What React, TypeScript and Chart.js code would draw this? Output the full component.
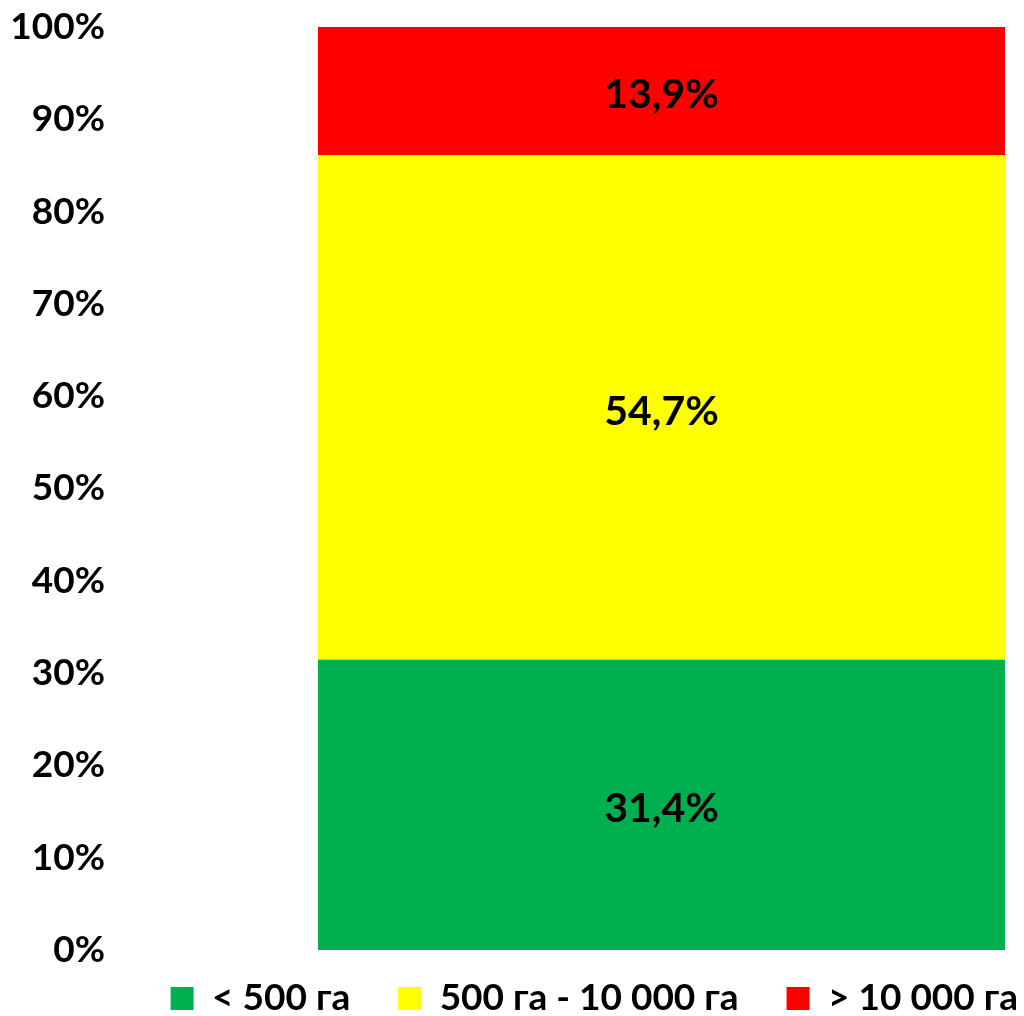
import React, { useEffect, useRef } from "react";
import { Chart, registerables } from "chart.js";

Chart.register(...registerables);

const categories = [""];
const seriesNames = ["< 500 га", "500 га - 10 000 га", "> 10 000 га"];
const seriesValues = [[31.4], [54.7], [13.9]];
const seriesColors = ["#00B050", "#FFFF00", "#FF0000"];
const yTicks = [0, 10, 20, 30, 40, 50, 60, 70, 80, 90, 100];

const FONT = "Lato, 'Open Sans', sans-serif";

const labelPlugin = {
  id: "segLabels",
  afterDatasetsDraw(chart: any) {
    const ctx = chart.ctx;
    ctx.save();
    ctx.font = `bold 41px ${FONT}`;
    ctx.fillStyle = "#000";
    ctx.textAlign = "center";
    ctx.textBaseline = "middle";
    chart.data.datasets.forEach((ds: any, i: number) => {
      const meta = chart.getDatasetMeta(i);
      meta.data.forEach((el: any, j: number) => {
        const v = ds.data[j];
        const y = (el.y + el.base) / 2 + 4;
        ctx.fillText(v.toFixed(1).replace(".", ",") + "%", el.x, y);
      });
    });
    ctx.restore();
  },
};

const legendShift = {
  id: "legendShift",
  afterLayout(chart: any) {
    const l = chart.legend;
    if (l) {
      l.top -= 18;
      l.bottom -= 18;
    }
  },
};

export default function App() {
  const ref = useRef<HTMLCanvasElement | null>(null);
  useEffect(() => {
    if (!ref.current) return;
    const chart = new Chart(ref.current, {
      type: "bar",
      data: {
        labels: categories,
        datasets: seriesNames.map((n, i) => ({
          label: n,
          data: seriesValues[i],
          backgroundColor: seriesColors[i],
          borderWidth: 0,
          barPercentage: 1,
          categoryPercentage: 1,
        })),
      },
      options: {
        animation: false,
        responsive: false,
        maintainAspectRatio: false,
        layout: { padding: { left: 12, right: -42, top: 27, bottom: -29 } },
        scales: {
          x: { stacked: true, display: false },
          y: {
            stacked: true,
            min: 0,
            max: 100,
            afterBuildTicks(axis: any) {
              axis.ticks = yTicks.map((v) => ({ value: v }));
            },
            afterFit(scale: any) {
              scale.width = 306;
              scale.paddingTop = 0;
              scale.paddingBottom = 0;
            },
            grid: { display: false, drawTicks: false },
            border: { display: false },
            ticks: {
              padding: 213,
              color: "#000",
              font: { family: FONT, size: 37, weight: "bold" },
              callback: (v: any) => v + "%",
            },
          },
          y2: {
            position: "right",
            display: true,
            grid: { display: false, drawTicks: false },
            border: { display: false },
            ticks: { display: false },
            afterFit(scale: any) {
              scale.width = 61;
              scale.paddingTop = 0;
              scale.paddingBottom = 0;
            },
          },
        },
        plugins: {
          legend: {
            position: "bottom",
            align: "end",
            labels: {
              boxWidth: 23,
              boxHeight: 23,
              padding: 48,
              color: "#000",
              font: { family: FONT, size: 37, weight: "bold" },
            },
          },
          tooltip: { enabled: false },
        },
      },
      plugins: [labelPlugin, legendShift],
    });
    return () => chart.destroy();
  }, []);
  return (
    <div style={{ position: "absolute", left: 0, top: 0, width: 1024, height: 1016, background: "#fff" }}>
      <canvas ref={ref} width={1024} height={1016} />
    </div>
  );
}
